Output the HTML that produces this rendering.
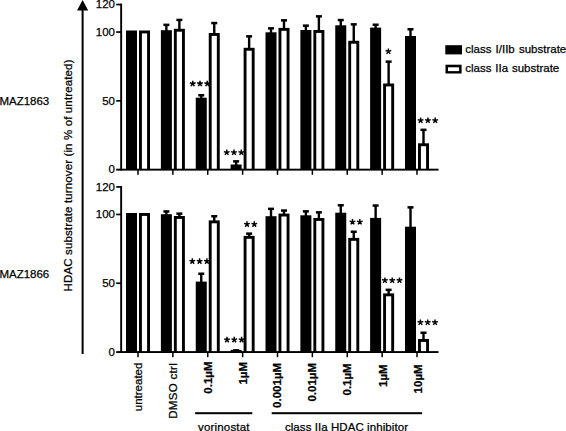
<!DOCTYPE html>
<html><head><meta charset="utf-8"><style>
html,body{margin:0;padding:0;background:#fff;overflow:hidden}
svg{display:block}
text{font-family:"Liberation Sans", sans-serif;font-size:11.5px;fill:#000;stroke:#000;stroke-width:0.25px}
text.b{font-weight:bold}
text.st{font-size:13px}
</style></head><body>
<svg width="566" height="431" viewBox="0 0 566 431">
<rect width="566" height="431" fill="#fff"/>
<rect x="120.20" y="3.64" width="1.90" height="166.86" fill="#000"/>
<rect x="116.20" y="3.69" width="5.00" height="1.70" fill="#000"/>
<rect x="116.20" y="31.20" width="5.00" height="1.70" fill="#000"/>
<rect x="116.20" y="99.98" width="5.00" height="1.70" fill="#000"/>
<rect x="116.20" y="168.70" width="322.30" height="1.90" fill="#000"/>
<text x="115" y="8.34" text-anchor="end">120</text>
<text x="115" y="35.85" text-anchor="end">100</text>
<text x="115" y="104.62" text-anchor="end">50</text>
<text x="115" y="173.40" text-anchor="end">0</text>
<rect x="137.25" y="169.60" width="1.50" height="5.20" fill="#000"/>
<rect x="126.00" y="30.50" width="11.00" height="139.10" fill="#000"/>
<rect x="139.00" y="30.50" width="11.00" height="139.10" fill="#000"/>
<rect x="141.90" y="33.40" width="5.20" height="135.30" fill="#fff"/>
<rect x="172.12" y="169.60" width="1.50" height="5.20" fill="#000"/>
<rect x="160.88" y="30.20" width="11.00" height="139.40" fill="#000"/>
<rect x="165.18" y="24.80" width="2.40" height="6.40" fill="#000"/>
<rect x="163.38" y="23.60" width="6.00" height="2.50" fill="#000"/>
<rect x="173.88" y="28.80" width="11.00" height="140.80" fill="#000"/>
<rect x="176.78" y="31.70" width="5.20" height="137.00" fill="#fff"/>
<rect x="178.18" y="19.90" width="2.40" height="9.90" fill="#000"/>
<rect x="176.38" y="18.70" width="6.00" height="2.50" fill="#000"/>
<rect x="207.00" y="169.60" width="1.50" height="5.20" fill="#000"/>
<rect x="195.75" y="97.70" width="11.00" height="71.90" fill="#000"/>
<rect x="200.05" y="95.20" width="2.40" height="3.50" fill="#000"/>
<rect x="198.25" y="94.00" width="6.00" height="2.50" fill="#000"/>
<rect x="208.75" y="33.00" width="11.00" height="136.60" fill="#000"/>
<rect x="211.65" y="35.90" width="5.20" height="132.80" fill="#fff"/>
<rect x="213.05" y="23.00" width="2.40" height="11.00" fill="#000"/>
<rect x="211.25" y="21.80" width="6.00" height="2.50" fill="#000"/>
<rect x="241.88" y="169.60" width="1.50" height="5.20" fill="#000"/>
<rect x="230.62" y="164.50" width="11.00" height="5.10" fill="#000"/>
<rect x="234.93" y="161.30" width="2.40" height="4.20" fill="#000"/>
<rect x="233.12" y="160.10" width="6.00" height="2.50" fill="#000"/>
<rect x="243.62" y="47.80" width="11.00" height="121.80" fill="#000"/>
<rect x="246.53" y="50.70" width="5.20" height="118.00" fill="#fff"/>
<rect x="247.93" y="36.30" width="2.40" height="12.50" fill="#000"/>
<rect x="246.12" y="35.10" width="6.00" height="2.50" fill="#000"/>
<rect x="276.75" y="169.60" width="1.50" height="5.20" fill="#000"/>
<rect x="265.50" y="32.30" width="11.00" height="137.30" fill="#000"/>
<rect x="269.80" y="28.30" width="2.40" height="5.00" fill="#000"/>
<rect x="268.00" y="27.10" width="6.00" height="2.50" fill="#000"/>
<rect x="278.50" y="27.90" width="11.00" height="141.70" fill="#000"/>
<rect x="281.40" y="30.80" width="5.20" height="137.90" fill="#fff"/>
<rect x="282.80" y="20.30" width="2.40" height="8.60" fill="#000"/>
<rect x="281.00" y="19.10" width="6.00" height="2.50" fill="#000"/>
<rect x="311.62" y="169.60" width="1.50" height="5.20" fill="#000"/>
<rect x="300.38" y="30.00" width="11.00" height="139.60" fill="#000"/>
<rect x="304.68" y="25.60" width="2.40" height="5.40" fill="#000"/>
<rect x="302.88" y="24.40" width="6.00" height="2.50" fill="#000"/>
<rect x="313.38" y="30.00" width="11.00" height="139.60" fill="#000"/>
<rect x="316.27" y="32.90" width="5.20" height="135.80" fill="#fff"/>
<rect x="317.68" y="16.30" width="2.40" height="14.70" fill="#000"/>
<rect x="315.88" y="15.10" width="6.00" height="2.50" fill="#000"/>
<rect x="346.50" y="169.60" width="1.50" height="5.20" fill="#000"/>
<rect x="335.25" y="25.30" width="11.00" height="144.30" fill="#000"/>
<rect x="339.55" y="20.00" width="2.40" height="6.30" fill="#000"/>
<rect x="337.75" y="18.80" width="6.00" height="2.50" fill="#000"/>
<rect x="348.25" y="40.80" width="11.00" height="128.80" fill="#000"/>
<rect x="351.15" y="43.70" width="5.20" height="125.00" fill="#fff"/>
<rect x="352.55" y="24.30" width="2.40" height="17.50" fill="#000"/>
<rect x="350.75" y="23.10" width="6.00" height="2.50" fill="#000"/>
<rect x="381.38" y="169.60" width="1.50" height="5.20" fill="#000"/>
<rect x="370.12" y="27.60" width="11.00" height="142.00" fill="#000"/>
<rect x="374.43" y="24.70" width="2.40" height="3.90" fill="#000"/>
<rect x="372.62" y="23.50" width="6.00" height="2.50" fill="#000"/>
<rect x="383.12" y="83.50" width="11.00" height="86.10" fill="#000"/>
<rect x="386.02" y="86.40" width="5.20" height="82.30" fill="#fff"/>
<rect x="387.43" y="61.60" width="2.40" height="22.90" fill="#000"/>
<rect x="385.62" y="60.40" width="6.00" height="2.50" fill="#000"/>
<rect x="416.25" y="169.60" width="1.50" height="5.20" fill="#000"/>
<rect x="405.00" y="36.00" width="11.00" height="133.60" fill="#000"/>
<rect x="409.30" y="29.20" width="2.40" height="7.80" fill="#000"/>
<rect x="407.50" y="28.00" width="6.00" height="2.50" fill="#000"/>
<rect x="418.00" y="143.30" width="11.00" height="26.30" fill="#000"/>
<rect x="420.90" y="146.20" width="5.20" height="22.50" fill="#fff"/>
<rect x="422.30" y="129.80" width="2.40" height="14.50" fill="#000"/>
<rect x="420.50" y="128.60" width="6.00" height="2.50" fill="#000"/>
<rect x="120.20" y="186.04" width="1.90" height="166.86" fill="#000"/>
<rect x="116.20" y="186.09" width="5.00" height="1.70" fill="#000"/>
<rect x="116.20" y="213.60" width="5.00" height="1.70" fill="#000"/>
<rect x="116.20" y="282.38" width="5.00" height="1.70" fill="#000"/>
<rect x="116.20" y="351.10" width="322.30" height="1.90" fill="#000"/>
<text x="115" y="190.74" text-anchor="end">120</text>
<text x="115" y="218.25" text-anchor="end">100</text>
<text x="115" y="287.03" text-anchor="end">50</text>
<text x="115" y="355.80" text-anchor="end">0</text>
<rect x="137.25" y="352.00" width="1.50" height="5.20" fill="#000"/>
<rect x="126.00" y="213.00" width="11.00" height="139.00" fill="#000"/>
<rect x="139.00" y="213.00" width="11.00" height="139.00" fill="#000"/>
<rect x="141.90" y="215.90" width="5.20" height="135.20" fill="#fff"/>
<rect x="172.12" y="352.00" width="1.50" height="5.20" fill="#000"/>
<rect x="160.88" y="214.20" width="11.00" height="137.80" fill="#000"/>
<rect x="165.18" y="211.40" width="2.40" height="3.80" fill="#000"/>
<rect x="163.38" y="210.20" width="6.00" height="2.50" fill="#000"/>
<rect x="173.88" y="216.00" width="11.00" height="136.00" fill="#000"/>
<rect x="176.78" y="218.90" width="5.20" height="132.20" fill="#fff"/>
<rect x="178.18" y="213.60" width="2.40" height="3.40" fill="#000"/>
<rect x="176.38" y="212.40" width="6.00" height="2.50" fill="#000"/>
<rect x="207.00" y="352.00" width="1.50" height="5.20" fill="#000"/>
<rect x="195.75" y="281.60" width="11.00" height="70.40" fill="#000"/>
<rect x="200.05" y="273.70" width="2.40" height="8.90" fill="#000"/>
<rect x="198.25" y="272.50" width="6.00" height="2.50" fill="#000"/>
<rect x="208.75" y="220.40" width="11.00" height="131.60" fill="#000"/>
<rect x="211.65" y="223.30" width="5.20" height="127.80" fill="#fff"/>
<rect x="213.05" y="216.20" width="2.40" height="5.20" fill="#000"/>
<rect x="211.25" y="215.00" width="6.00" height="2.50" fill="#000"/>
<rect x="241.88" y="352.00" width="1.50" height="5.20" fill="#000"/>
<rect x="230.62" y="349.90" width="11.00" height="2.10" fill="#000"/>
<rect x="234.93" y="350.30" width="2.40" height="0.60" fill="#000"/>
<rect x="233.12" y="349.10" width="6.00" height="2.50" fill="#000"/>
<rect x="243.62" y="235.90" width="11.00" height="116.10" fill="#000"/>
<rect x="246.53" y="238.80" width="5.20" height="112.30" fill="#fff"/>
<rect x="247.93" y="233.60" width="2.40" height="3.30" fill="#000"/>
<rect x="246.12" y="232.40" width="6.00" height="2.50" fill="#000"/>
<rect x="276.75" y="352.00" width="1.50" height="5.20" fill="#000"/>
<rect x="265.50" y="216.20" width="11.00" height="135.80" fill="#000"/>
<rect x="269.80" y="208.80" width="2.40" height="8.40" fill="#000"/>
<rect x="268.00" y="207.60" width="6.00" height="2.50" fill="#000"/>
<rect x="278.50" y="213.60" width="11.00" height="138.40" fill="#000"/>
<rect x="281.40" y="216.50" width="5.20" height="134.60" fill="#fff"/>
<rect x="282.80" y="210.50" width="2.40" height="4.10" fill="#000"/>
<rect x="281.00" y="209.30" width="6.00" height="2.50" fill="#000"/>
<rect x="311.62" y="352.00" width="1.50" height="5.20" fill="#000"/>
<rect x="300.38" y="215.30" width="11.00" height="136.70" fill="#000"/>
<rect x="304.68" y="211.30" width="2.40" height="5.00" fill="#000"/>
<rect x="302.88" y="210.10" width="6.00" height="2.50" fill="#000"/>
<rect x="313.38" y="218.00" width="11.00" height="134.00" fill="#000"/>
<rect x="316.27" y="220.90" width="5.20" height="130.20" fill="#fff"/>
<rect x="317.68" y="212.30" width="2.40" height="6.70" fill="#000"/>
<rect x="315.88" y="211.10" width="6.00" height="2.50" fill="#000"/>
<rect x="346.50" y="352.00" width="1.50" height="5.20" fill="#000"/>
<rect x="335.25" y="212.70" width="11.00" height="139.30" fill="#000"/>
<rect x="339.55" y="205.20" width="2.40" height="8.50" fill="#000"/>
<rect x="337.75" y="204.00" width="6.00" height="2.50" fill="#000"/>
<rect x="348.25" y="237.90" width="11.00" height="114.10" fill="#000"/>
<rect x="351.15" y="240.80" width="5.20" height="110.30" fill="#fff"/>
<rect x="352.55" y="231.70" width="2.40" height="7.20" fill="#000"/>
<rect x="350.75" y="230.50" width="6.00" height="2.50" fill="#000"/>
<rect x="381.38" y="352.00" width="1.50" height="5.20" fill="#000"/>
<rect x="370.12" y="217.90" width="11.00" height="134.10" fill="#000"/>
<rect x="374.43" y="205.50" width="2.40" height="13.40" fill="#000"/>
<rect x="372.62" y="204.30" width="6.00" height="2.50" fill="#000"/>
<rect x="383.12" y="293.40" width="11.00" height="58.60" fill="#000"/>
<rect x="386.02" y="296.30" width="5.20" height="54.80" fill="#fff"/>
<rect x="387.43" y="289.80" width="2.40" height="4.60" fill="#000"/>
<rect x="385.62" y="288.60" width="6.00" height="2.50" fill="#000"/>
<rect x="416.25" y="352.00" width="1.50" height="5.20" fill="#000"/>
<rect x="405.00" y="226.70" width="11.00" height="125.30" fill="#000"/>
<rect x="409.30" y="207.30" width="2.40" height="20.40" fill="#000"/>
<rect x="407.50" y="206.10" width="6.00" height="2.50" fill="#000"/>
<rect x="418.00" y="339.00" width="11.00" height="13.00" fill="#000"/>
<rect x="420.90" y="341.90" width="5.20" height="9.20" fill="#fff"/>
<rect x="422.30" y="332.70" width="2.40" height="7.30" fill="#000"/>
<rect x="420.50" y="331.50" width="6.00" height="2.50" fill="#000"/>
<path d="M192.70,83.70L192.70,80.70M192.70,83.70L195.55,82.77M192.70,83.70L194.46,86.13M192.70,83.70L190.94,86.13M192.70,83.70L189.85,82.77" stroke="#000" stroke-width="1.45" fill="none"/>
<path d="M200.00,83.70L200.00,80.70M200.00,83.70L202.85,82.77M200.00,83.70L201.76,86.13M200.00,83.70L198.24,86.13M200.00,83.70L197.15,82.77" stroke="#000" stroke-width="1.45" fill="none"/>
<path d="M207.30,83.70L207.30,80.70M207.30,83.70L210.15,82.77M207.30,83.70L209.06,86.13M207.30,83.70L205.54,86.13M207.30,83.70L204.45,82.77" stroke="#000" stroke-width="1.45" fill="none"/>
<path d="M226.70,152.50L226.70,149.50M226.70,152.50L229.55,151.57M226.70,152.50L228.46,154.93M226.70,152.50L224.94,154.93M226.70,152.50L223.85,151.57" stroke="#000" stroke-width="1.45" fill="none"/>
<path d="M234.00,152.50L234.00,149.50M234.00,152.50L236.85,151.57M234.00,152.50L235.76,154.93M234.00,152.50L232.24,154.93M234.00,152.50L231.15,151.57" stroke="#000" stroke-width="1.45" fill="none"/>
<path d="M241.30,152.50L241.30,149.50M241.30,152.50L244.15,151.57M241.30,152.50L243.06,154.93M241.30,152.50L239.54,154.93M241.30,152.50L238.45,151.57" stroke="#000" stroke-width="1.45" fill="none"/>
<path d="M388.40,51.40L388.40,48.40M388.40,51.40L391.25,50.47M388.40,51.40L390.16,53.83M388.40,51.40L386.64,53.83M388.40,51.40L385.55,50.47" stroke="#000" stroke-width="1.45" fill="none"/>
<path d="M420.60,120.50L420.60,117.50M420.60,120.50L423.45,119.57M420.60,120.50L422.36,122.93M420.60,120.50L418.84,122.93M420.60,120.50L417.75,119.57" stroke="#000" stroke-width="1.45" fill="none"/>
<path d="M427.90,120.50L427.90,117.50M427.90,120.50L430.75,119.57M427.90,120.50L429.66,122.93M427.90,120.50L426.14,122.93M427.90,120.50L425.05,119.57" stroke="#000" stroke-width="1.45" fill="none"/>
<path d="M435.20,120.50L435.20,117.50M435.20,120.50L438.05,119.57M435.20,120.50L436.96,122.93M435.20,120.50L433.44,122.93M435.20,120.50L432.35,119.57" stroke="#000" stroke-width="1.45" fill="none"/>
<path d="M192.30,261.30L192.30,258.30M192.30,261.30L195.15,260.37M192.30,261.30L194.06,263.73M192.30,261.30L190.54,263.73M192.30,261.30L189.45,260.37" stroke="#000" stroke-width="1.45" fill="none"/>
<path d="M199.60,261.30L199.60,258.30M199.60,261.30L202.45,260.37M199.60,261.30L201.36,263.73M199.60,261.30L197.84,263.73M199.60,261.30L196.75,260.37" stroke="#000" stroke-width="1.45" fill="none"/>
<path d="M206.90,261.30L206.90,258.30M206.90,261.30L209.75,260.37M206.90,261.30L208.66,263.73M206.90,261.30L205.14,263.73M206.90,261.30L204.05,260.37" stroke="#000" stroke-width="1.45" fill="none"/>
<path d="M227.00,339.80L227.00,336.80M227.00,339.80L229.85,338.87M227.00,339.80L228.76,342.23M227.00,339.80L225.24,342.23M227.00,339.80L224.15,338.87" stroke="#000" stroke-width="1.45" fill="none"/>
<path d="M234.30,339.80L234.30,336.80M234.30,339.80L237.15,338.87M234.30,339.80L236.06,342.23M234.30,339.80L232.54,342.23M234.30,339.80L231.45,338.87" stroke="#000" stroke-width="1.45" fill="none"/>
<path d="M241.60,339.80L241.60,336.80M241.60,339.80L244.45,338.87M241.60,339.80L243.36,342.23M241.60,339.80L239.84,342.23M241.60,339.80L238.75,338.87" stroke="#000" stroke-width="1.45" fill="none"/>
<path d="M247.00,224.30L247.00,221.30M247.00,224.30L249.85,223.37M247.00,224.30L248.76,226.73M247.00,224.30L245.24,226.73M247.00,224.30L244.15,223.37" stroke="#000" stroke-width="1.45" fill="none"/>
<path d="M254.30,224.30L254.30,221.30M254.30,224.30L257.15,223.37M254.30,224.30L256.06,226.73M254.30,224.30L252.54,226.73M254.30,224.30L251.45,223.37" stroke="#000" stroke-width="1.45" fill="none"/>
<path d="M352.50,222.00L352.50,219.00M352.50,222.00L355.35,221.07M352.50,222.00L354.26,224.43M352.50,222.00L350.74,224.43M352.50,222.00L349.65,221.07" stroke="#000" stroke-width="1.45" fill="none"/>
<path d="M359.80,222.00L359.80,219.00M359.80,222.00L362.65,221.07M359.80,222.00L361.56,224.43M359.80,222.00L358.04,224.43M359.80,222.00L356.95,221.07" stroke="#000" stroke-width="1.45" fill="none"/>
<path d="M384.90,280.40L384.90,277.40M384.90,280.40L387.75,279.47M384.90,280.40L386.66,282.83M384.90,280.40L383.14,282.83M384.90,280.40L382.05,279.47" stroke="#000" stroke-width="1.45" fill="none"/>
<path d="M392.20,280.40L392.20,277.40M392.20,280.40L395.05,279.47M392.20,280.40L393.96,282.83M392.20,280.40L390.44,282.83M392.20,280.40L389.35,279.47" stroke="#000" stroke-width="1.45" fill="none"/>
<path d="M399.50,280.40L399.50,277.40M399.50,280.40L402.35,279.47M399.50,280.40L401.26,282.83M399.50,280.40L397.74,282.83M399.50,280.40L396.65,279.47" stroke="#000" stroke-width="1.45" fill="none"/>
<path d="M420.40,322.40L420.40,319.40M420.40,322.40L423.25,321.47M420.40,322.40L422.16,324.83M420.40,322.40L418.64,324.83M420.40,322.40L417.55,321.47" stroke="#000" stroke-width="1.45" fill="none"/>
<path d="M427.70,322.40L427.70,319.40M427.70,322.40L430.55,321.47M427.70,322.40L429.46,324.83M427.70,322.40L425.94,324.83M427.70,322.40L424.85,321.47" stroke="#000" stroke-width="1.45" fill="none"/>
<path d="M435.00,322.40L435.00,319.40M435.00,322.40L437.85,321.47M435.00,322.40L436.76,324.83M435.00,322.40L433.24,324.83M435.00,322.40L432.15,321.47" stroke="#000" stroke-width="1.45" fill="none"/>
<text x="-0.6" y="104.8">MAZ1863</text>
<text x="-0.6" y="278.3">MAZ1866</text>
<text transform="translate(72.3,175.45) rotate(-90)" text-anchor="middle" textLength="231.9">HDAC substrate turnover (in % of untreated)</text>
<rect x="81.60" y="10.00" width="2.00" height="344.00" fill="#000"/>
<polygon points="82.6,0 77,10.6 88.2,10.6" fill="#000"/>
<text transform="translate(142.00,362.6) rotate(-90)" text-anchor="end">untreated</text>
<text transform="translate(176.88,363.2) rotate(-90)" text-anchor="end" textLength="55.6">DMSO ctrl</text>
<text class="b" transform="translate(211.75,361.5) rotate(-90)" text-anchor="end">0.1µM</text>
<text class="b" transform="translate(246.62,362.0) rotate(-90)" text-anchor="end">1µM</text>
<text class="b" transform="translate(281.20,362.9) rotate(-90)" text-anchor="end">0.001µM</text>
<text class="b" transform="translate(316.38,363.0) rotate(-90)" text-anchor="end">0.01µM</text>
<text class="b" transform="translate(351.25,363.3) rotate(-90)" text-anchor="end">0.1µM</text>
<text class="b" transform="translate(386.82,364.4) rotate(-90)" text-anchor="end">1µM</text>
<text class="b" transform="translate(422.40,364.4) rotate(-90)" text-anchor="end">10µM</text>
<rect x="195.10" y="412.20" width="57.20" height="2.00" fill="#000"/>
<rect x="271.70" y="412.20" width="150.40" height="2.00" fill="#000"/>
<text x="223.75" y="430.6" text-anchor="middle" textLength="51.5">vorinostat</text>
<text x="346.45" y="430.6" text-anchor="middle" textLength="123.1">class IIa HDAC inhibitor</text>
<rect x="445.30" y="45.20" width="16.70" height="9.20" fill="#000"/>
<rect x="445.50" y="64.70" width="16.10" height="8.80" fill="#000"/>
<rect x="448.00" y="67.30" width="11.10" height="3.80" fill="#fff"/>
<text x="465.2" y="52.9" word-spacing="1">class I/IIb substrate</text>
<text x="465.2" y="72.1" word-spacing="0.7">class IIa substrate</text>
</svg></body></html>
